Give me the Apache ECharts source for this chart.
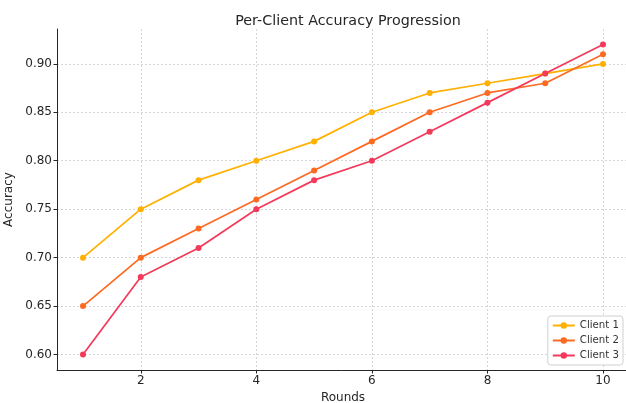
<!DOCTYPE html>
<html>
<head>
<meta charset="utf-8">
<script src="https://cdn.jsdelivr.net/npm/echarts@6/dist/echarts.min.js"></script>
<style>
html,body{margin:0;padding:0;background:#fff;}
#chart{width:626px;height:403px;}
</style>
</head>
<body>
<div id="chart"></div>
<script>
const rounds = [1, 2, 3, 4, 5, 6, 7, 8, 9, 10];
const client1 = [0.70, 0.75, 0.78, 0.80, 0.82, 0.85, 0.87, 0.88, 0.89, 0.90];
const client2 = [0.65, 0.70, 0.73, 0.76, 0.79, 0.82, 0.85, 0.87, 0.88, 0.91];
const client3 = [0.60, 0.68, 0.71, 0.75, 0.78, 0.80, 0.83, 0.86, 0.89, 0.92];
const seriesNames = ['Client 1', 'Client 2', 'Client 3'];
const xTicks = [2, 4, 6, 8, 10];
const yTicks = [0.60, 0.65, 0.70, 0.75, 0.80, 0.85, 0.90];

const colors = ['#ffb000', '#fd6a22', '#f43a5a'];
const FONT = 'DejaVu Sans';
const chart = echarts.init(document.getElementById('chart'), null, {renderer: 'canvas'});

function mk(name, vals, color) {
  return {
    name: name,
    type: 'line',
    data: rounds.map((r, i) => [r, vals[i]]),
    symbol: 'circle',
    symbolSize: 6,
    lineStyle: {width: 1.7, color: color},
    itemStyle: {color: color},
    emphasis: {disabled: true},
    animation: false
  };
}

chart.setOption({
  animation: false,
  textStyle: {fontFamily: FONT},
  title: {
    text: 'Per-Client Accuracy Progression',
    left: 343, top: 9, textAlign: 'center',
    textStyle: {fontFamily: FONT, fontSize: 14.3, fontWeight: 'normal', color: '#262626'}
  },
  grid: {left: 57, right: -3, top: 29, bottom: 33, containLabel: false, outerBoundsMode: 'none'},
  legend: {
    orient: 'vertical',
    right: 3, bottom: 38,
    data: seriesNames,
    itemWidth: 22, itemHeight: 8, itemGap: 4,
    padding: [4, 4, 4, 4],
    borderColor: '#d0d0d0', borderWidth: 1, borderRadius: 3,
    backgroundColor: '#ffffff',
    textStyle: {fontFamily: FONT, fontSize: 10.2, lineHeight: 11, color: '#333'}
  },
  xAxis: {
    type: 'value', min: 0.55, max: 10.45,
    name: 'Rounds', nameLocation: 'middle', nameGap: 20,
    nameTextStyle: {fontFamily: FONT, fontSize: 12, color: '#262626', verticalAlign: 'top'},
    axisLine: {show: true, onZero: false, lineStyle: {color: '#262626', width: 1}},
    axisTick: {show: true, customValues: xTicks, length: 3.5, lineStyle: {color: '#262626'}},
    axisLabel: {customValues: xTicks, margin: 5, fontFamily: FONT, fontSize: 12, color: '#262626'},
    splitLine: {show: true, lineStyle: {color: '#cccccc', type: [2, 2], width: 0.8}}
  },
  yAxis: {
    type: 'value', min: 0.584, max: 0.936,
    name: 'Accuracy', nameLocation: 'middle', nameGap: 38,
    nameTextStyle: {fontFamily: FONT, fontSize: 12, color: '#262626'},
    axisLine: {show: true, onZero: false, lineStyle: {color: '#262626', width: 1}},
    axisTick: {show: true, customValues: yTicks, length: 3.5, lineStyle: {color: '#262626'}},
    axisLabel: {customValues: yTicks, margin: 5, fontFamily: FONT, fontSize: 12, color: '#262626',
      formatter: v => v.toFixed(2)},
    splitLine: {show: true, lineStyle: {color: '#cccccc', type: [2, 2], width: 0.8}}
  },
  series: [
    mk(seriesNames[0], client1, colors[0]),
    mk(seriesNames[1], client2, colors[1]),
    mk(seriesNames[2], client3, colors[2])
  ]
});
</script>
</body>
</html>
